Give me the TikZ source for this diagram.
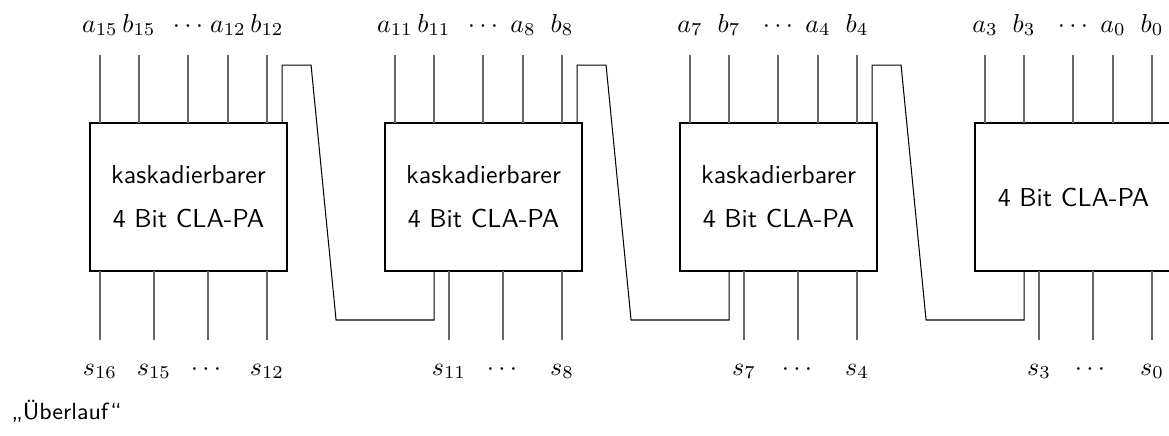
\documentclass[tikz,border=0pt]{standalone}
\usepackage{fontspec}
\usetikzlibrary{calc}
\begin{document}
\begin{tikzpicture}[x=0.3855pt,y=-0.3855pt,
  blk/.style={draw,line width=0.8pt,minimum width=75.9pt,minimum height=57.05pt,inner sep=0pt,outer sep=0pt,align=center,font=\sffamily},
  wire/.style={draw=black!60,line width=0.5pt},
  carry/.style={draw=black,line width=0.4pt},
  lbl/.style={inner sep=0pt,anchor=base}]
\useasboundingbox (0,0) rectangle (1169,435);
% blocks
\node[blk] (b1) at (188.5,197) {kaskadierbarer\\[5pt]4 Bit CLA-PA};
\node[blk] (b2) at (483.5,197) {kaskadierbarer\\[5pt]4 Bit CLA-PA};
\node[blk] (b3) at (778.5,197) {kaskadierbarer\\[5pt]4 Bit CLA-PA};
\node[blk] (b4) at (1073.5,197) {4 Bit CLA-PA};
% top wires
\foreach \i in {1,...,4}
  \foreach \d in {10,49,98,138,177}
    \draw[wire] ($(b\i.north west)+(\d,0)$) -- ++(0,-68);
% bottom wires
\foreach \d in {10,64,118,177}
  \draw[wire] ($(b1.south west)+(\d,0)$) -- ++(0,69);
\foreach \i in {2,3,4}
  \foreach \d in {64,118,177}
    \draw[wire] ($(b\i.south west)+(\d,0)$) -- ++(0,69);
% carries
\draw[carry] ($(b1.north west)+(192,0)$) -- ++(0,-58) -- ++(29,0) -- ($(b2.south west)+(-49,49)$) -- ($(b2.south west)+(49,49)$) -- ($(b2.south west)+(49,0)$);
\draw[carry] ($(b2.north west)+(192,0)$) -- ++(0,-58) -- ++(29,0) -- ($(b3.south west)+(-49,49)$) -- ($(b3.south west)+(49,49)$) -- ($(b3.south west)+(49,0)$);
\draw[carry] ($(b3.north west)+(192,0)$) -- ++(0,-58) -- ++(29,0) -- ($(b4.south west)+(-49,49)$) -- ($(b4.south west)+(49,49)$) -- ($(b4.south west)+(49,0)$);
% top labels
\node[lbl] (a15) at (100,32) {$a_{15}$};
\node[lbl] (b15) at (139,32) {$b_{15}$};
\node[lbl] (d1) at (188,32) {$\cdots$};
\node[lbl] (a12) at (228,32) {$a_{12}$};
\node[lbl] (b12) at (267,32) {$b_{12}$};
\node[lbl] (a11) at (395,32) {$a_{11}$};
\node[lbl] (b11) at (434,32) {$b_{11}$};
\node[lbl] (d2) at (483,32) {$\cdots$};
\node[lbl] (a8) at (523,32) {$a_8$};
\node[lbl] (b8) at (562,32) {$b_8$};
\node[lbl] (a7) at (690,32) {$a_7$};
\node[lbl] (b7) at (729,32) {$b_7$};
\node[lbl] (d3) at (778,32) {$\cdots$};
\node[lbl] (a4) at (818,32) {$a_4$};
\node[lbl] (b4l) at (857,32) {$b_4$};
\node[lbl] (a3) at (985,32) {$a_3$};
\node[lbl] (b3l) at (1024,32) {$b_3$};
\node[lbl] (d4) at (1073,32) {$\cdots$};
\node[lbl] (a0) at (1113,32) {$a_0$};
\node[lbl] (b0) at (1152,32) {$b_0$};
% bottom labels
\node[lbl] (s16) at (100,375) {$s_{16}$};
\node[lbl] (s15) at (154,375) {$s_{15}$};
\node[lbl] (e1) at (206,375) {$\cdots$};
\node[lbl] (s12) at (267,375) {$s_{12}$};
\node[lbl] (s11) at (449,375) {$s_{11}$};
\node[lbl] (e2) at (502,375) {$\cdots$};
\node[lbl] (s8) at (562,375) {$s_8$};
\node[lbl] (s7) at (744,375) {$s_7$};
\node[lbl] (e3) at (797,375) {$\cdots$};
\node[lbl] (s4) at (857,375) {$s_4$};
\node[lbl] (s3) at (1039,375) {$s_3$};
\node[lbl] (e4) at (1090,375) {$\cdots$};
\node[lbl] (s0) at (1152,375) {$s_0$};
% overflow
\node[inner sep=0pt,anchor=base west,font=\sffamily\small] (ov) at (11,419) {„Überlauf“};
\end{tikzpicture}
\end{document}
